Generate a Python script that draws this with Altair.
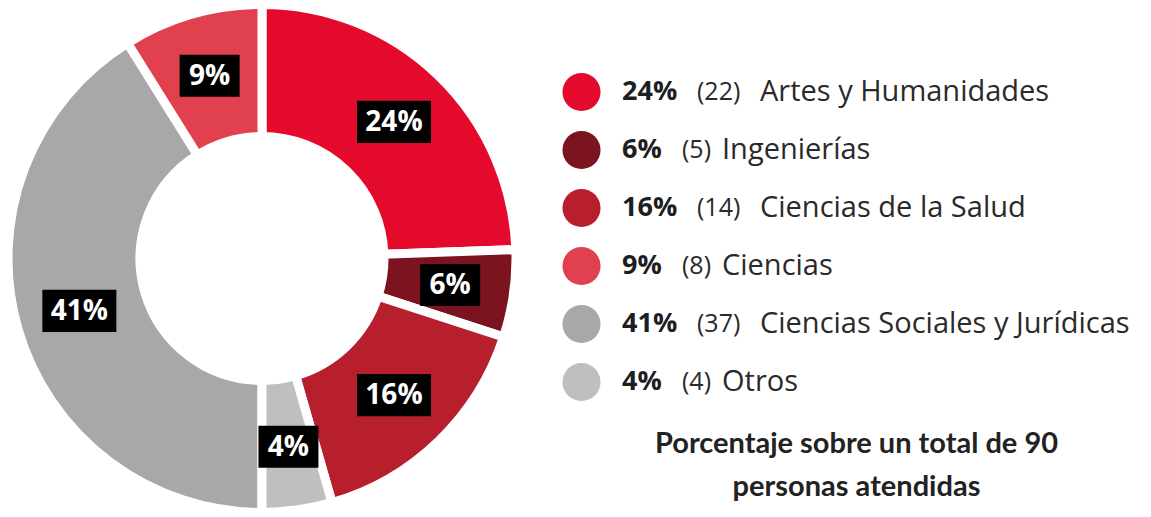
import altair as alt
import pandas as pd

# ---- data ----
names = ["Artes y Humanidades", "Ingenierías", "Ciencias de la Salud",
         "Ciencias", "Ciencias Sociales y Jurídicas", "Otros"]
counts = [22, 5, 14, 8, 37, 4]
pcts = ["24%", "6%", "16%", "9%", "41%", "4%"]
pie_order = [0, 1, 2, 5, 4, 3]          # clockwise order of the slices from 12 o'clock
colors = ["#E30A2C", "#7C1420", "#B71F2D", "#E1404F", "#A8A8A8", "#BFBFBF"]
note = ["Porcentaje sobre un total de 90", "personas atendidas"]

df = pd.DataFrame({"name": names, "count": counts, "pct": pcts, "ord": pie_order})

color = alt.Color("name:N", scale=alt.Scale(domain=names, range=colors), legend=None)

W_L, H_L = 508, 501
R_LAB = 190

base = alt.Chart(df)

arcs = base.mark_arc(outerRadius=254, innerRadius=122, stroke="white",
                     strokeWidth=9, clip=True).encode(
    theta=alt.Theta("count:Q", stack=True),
    order=alt.Order("ord:Q"),
    color=color,
)

pos = base.transform_window(
    cum="sum(count)", sort=[alt.SortField("ord")], frame=[None, 0]
).transform_joinaggregate(
    total="sum(count)"
).transform_calculate(
    mid="(datum.cum - datum.count / 2) / datum.total * 2 * PI",
    bx=f"{R_LAB} * sin(datum.mid)",
    by=f"{R_LAB} * cos(datum.mid)",
    box="length(datum.pct) == 3 ? 'M-1,-0.57L1,-0.57L1,0.57L-1,0.57Z' : 'M-1,-0.7L1,-0.7L1,0.7L-1,0.7Z'",
    bsize="length(datum.pct) == 3 ? 5476 : 3600",
)

xs = alt.X("bx:Q", scale=alt.Scale(domain=[-W_L / 2, W_L / 2], nice=False, zero=False), axis=None)
ys = alt.Y("by:Q", scale=alt.Scale(domain=[-H_L / 2, H_L / 2], nice=False, zero=False), axis=None)

boxes = pos.mark_point(filled=True, opacity=1, strokeWidth=0, color="black").encode(
    x=xs, y=ys,
    shape=alt.Shape("box:N", scale=None),
    size=alt.Size("bsize:Q", scale=None),
)

labels = pos.mark_text(font="Open Sans", fontWeight="bold", fontSize=28,
                       color="white", align="center", baseline="middle", dy=1).encode(
    x=xs, y=ys, text="pct:N",
)

donut = alt.layer(arcs, boxes, labels).properties(width=W_L, height=H_L)

# ---- legend panel ----
W_R, H_R = 615, 403
leg = alt.Chart(df).transform_calculate(
    cnt="'(' + datum.count + ')'",
    cx="55.5",
    px="96",
    qx="length(datum.pct) == 3 ? 171 : 156",
    nx="length(datum.pct) == 3 ? 234 : 196",
)
ly = alt.Y("name:N", sort=names, scale=alt.Scale(range=[55, 403]), axis=None)
lxs = alt.Scale(domain=[0, W_R], nice=False, zero=False)

dots = leg.mark_circle(size=1452, opacity=1).encode(
    x=alt.X("cx:Q", scale=lxs, axis=None), y=ly, color=color)
t_pct = leg.mark_text(font="Open Sans", fontWeight="bold", fontSize=27, color="#1e1e1e",
                      align="left", baseline="middle").encode(
    x=alt.X("px:Q", scale=lxs, axis=None), y=ly, text="pct:N")
t_cnt = leg.mark_text(font="Open Sans", fontSize=25, color="#2a2a2a",
                      align="left", baseline="middle").encode(
    x=alt.X("qx:Q", scale=lxs, axis=None), y=ly, text="cnt:N")
t_name = leg.mark_text(font="Open Sans", fontSize=29, color="#2a2a2a",
                       align="left", baseline="middle").encode(
    x=alt.X("nx:Q", scale=lxs, axis=None), y=ly, text="name:N")

legend_panel = alt.layer(dots, t_pct, t_cnt, t_name).properties(
    width=W_R, height=H_R,
    title=alt.TitleParams(text=note, orient="bottom", anchor="middle", frame="group",
                          offset=19, dx=23, font="Lato", fontSize=29, fontWeight="bold",
                          color="#222222", lineHeight=43),
)

chart = alt.hconcat(donut, legend_panel, spacing=10).properties(
    padding=0, background="white"
).configure_view(stroke=None)

chart.save("out.html", embed_options={"renderer": "svg", "actions": False})
